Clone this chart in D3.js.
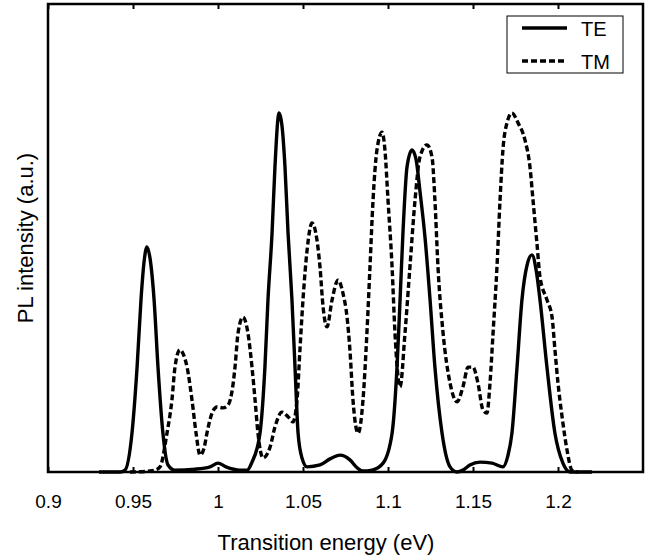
<!DOCTYPE html>
<html>
<head>
<meta charset="utf-8">
<script src="https://cdn.jsdelivr.net/npm/d3@7"></script>
<style>
  body { margin: 0; background: #fff; }
  text { font-family: "Liberation Sans", Arial, sans-serif; fill: #000; }
</style>
</head>
<body>
<div id="chart"></div>
<script>
// TE spectrum: [energy (eV), intensity (a.u.)]
const teEnergy = [0.93, 0.9424, 0.9453, 0.9494, 0.9524, 0.9547, 0.9565, 0.9582, 0.96, 0.9624, 0.9647, 0.9676, 0.9706, 0.9747,
  0.9865, 0.9953, 1.0, 1.0047, 1.0129, 1.0171, 1.02, 1.0247, 1.0276, 1.0294, 1.0318, 1.0335, 1.0359, 1.0376, 1.0394, 1.0412,
  1.0435, 1.0453, 1.0471, 1.0494, 1.0524, 1.06, 1.0659, 1.0718, 1.0776, 1.0818, 1.0853, 1.0906, 1.0971, 1.1024, 1.1053,
  1.1071, 1.1088, 1.1112, 1.1141, 1.1165, 1.1188, 1.1218, 1.1247, 1.1276, 1.1318, 1.1365, 1.1406, 1.1441, 1.1482, 1.1541,
  1.1612, 1.1676, 1.1706, 1.1729, 1.1759, 1.1788, 1.1818, 1.1847, 1.1871, 1.1894, 1.1935, 1.1982, 1.2029, 1.2071, 1.22]
const teValue = [0, 0, 0.004, 0.083, 0.224, 0.368, 0.449, 0.481, 0.457, 0.368, 0.224, 0.083, 0.015, 0.004,
  0.006, 0.011, 0.019, 0.011, 0.004, 0.004, 0.021, 0.083, 0.224, 0.368, 0.511, 0.652, 0.767, 0.741, 0.652, 0.511,
  0.368, 0.224, 0.083, 0.03, 0.011, 0.015, 0.028, 0.036, 0.026, 0.009, 0.002, 0.004, 0.019, 0.083, 0.224,
  0.368, 0.511, 0.652, 0.688, 0.668, 0.6, 0.5, 0.37, 0.224, 0.083, 0.011, 0, 0.004, 0.015, 0.021,
  0.019, 0.011, 0.036, 0.083, 0.224, 0.368, 0.442, 0.464, 0.432, 0.368, 0.224, 0.083, 0.019, 0, 0]

// TM spectrum
const tmEnergy = [0.9482, 0.96, 0.9629, 0.9659, 0.97, 0.9729, 0.9747, 0.9776, 0.98, 0.9818, 0.9847, 0.9871, 0.9894, 0.9918,
  0.9935, 0.9965, 0.9994, 1.0029, 1.0059, 1.0088, 1.01, 1.0118, 1.0147, 1.0176, 1.02, 1.0218, 1.0235, 1.0265, 1.0306,
  1.0335, 1.0376, 1.0412, 1.0441, 1.0465, 1.0482, 1.05, 1.0524, 1.0553, 1.0582, 1.06, 1.0618, 1.0641, 1.0671, 1.0706,
  1.0735, 1.0759, 1.0776, 1.0794, 1.0824, 1.0853, 1.0876, 1.0894, 1.0912, 1.0935, 1.0965, 1.0982, 1.1, 1.1024, 1.1041,
  1.1071, 1.11, 1.1129, 1.1159, 1.1188, 1.1229, 1.1259, 1.1276, 1.1294, 1.1324, 1.1365, 1.1406, 1.1441, 1.1471, 1.15,
  1.1529, 1.1559, 1.1582, 1.16, 1.1618, 1.1641, 1.1659, 1.1676, 1.17, 1.1729, 1.1765, 1.1806, 1.1835, 1.1853, 1.1876,
  1.1894, 1.1935, 1.1965, 1.1982, 1.2, 1.2024, 1.2053, 1.2082, 1.2118]
const tmValue = [0, 0.002, 0.004, 0.011, 0.083, 0.154, 0.224, 0.261, 0.248, 0.224, 0.154, 0.083, 0.036, 0.051,
  0.083, 0.126, 0.139, 0.137, 0.143, 0.186, 0.224, 0.297, 0.331, 0.297, 0.224, 0.154, 0.083, 0.03, 0.053,
  0.096, 0.128, 0.118, 0.107, 0.154, 0.261, 0.368, 0.474, 0.532, 0.496, 0.438, 0.353, 0.31, 0.368, 0.41,
  0.382, 0.331, 0.261, 0.154, 0.083, 0.154, 0.297, 0.438, 0.581, 0.688, 0.726, 0.688, 0.581, 0.438, 0.297,
  0.182, 0.297, 0.438, 0.581, 0.673, 0.699, 0.673, 0.581, 0.438, 0.297, 0.19, 0.15, 0.182, 0.224, 0.224,
  0.19, 0.132, 0.126, 0.19, 0.297, 0.438, 0.581, 0.688, 0.746, 0.767, 0.746, 0.709, 0.652, 0.581, 0.489,
  0.417, 0.368, 0.331, 0.261, 0.19, 0.118, 0.047, 0.004, 0]

const xTicks = [0.9, 0.95, 1, 1.05, 1.1, 1.15, 1.2]

const width = 653, height = 558
const margin = { top: 4, right: 10, bottom: 86, left: 48 }
const innerW = width - margin.left - margin.right
const innerH = height - margin.top - margin.bottom

const svg = d3.select('#chart').append('svg')
  .attr('width', width)
  .attr('height', height)

const g = svg.append('g')
  .attr('transform', `translate(${margin.left},${margin.top})`)

const x = d3.scaleLinear().domain([0.9, 1.25]).range([0, innerW])
const y = d3.scaleLinear().domain([0, 1]).range([innerH, 0])

const te = teEnergy.map((e, i) => [e, teValue[i]])
const tm = tmEnergy.map((e, i) => [e, tmValue[i]])

const line = d3.line()
  .x(d => x(d[0]))
  .y(d => y(d[1]))
  .curve(d3.curveMonotoneX)

g.append('path')
  .datum(tm)
  .attr('d', line)
  .attr('fill', 'none')
  .attr('stroke', '#000')
  .attr('stroke-width', 3.4)
  .attr('stroke-dasharray', '6,3')

g.append('path')
  .datum(te)
  .attr('d', line)
  .attr('fill', 'none')
  .attr('stroke', '#000')
  .attr('stroke-width', 3.4)

// bottom axis, ticks pointing inward
const xAxis = g.append('g')
  .attr('transform', `translate(0,${innerH})`)
  .call(d3.axisBottom(x).tickValues(xTicks).tickSize(-5).tickPadding(23).tickFormat(d3.format('')))
xAxis.select('.domain').remove()
xAxis.selectAll('line').attr('stroke-width', 2)
xAxis.selectAll('text')
  .style('font-family', '"Liberation Sans", Arial, sans-serif')
  .style('font-size', '19px')

const xTop = g.append('g')
  .call(d3.axisTop(x).tickValues(xTicks).tickSize(-5).tickFormat(''))
xTop.select('.domain').remove()
xTop.selectAll('line').attr('stroke-width', 2)

g.append('rect')
  .attr('width', innerW)
  .attr('height', innerH)
  .attr('fill', 'none')
  .attr('stroke', '#000')
  .attr('stroke-width', 2.5)

svg.append('text')
  .attr('x', 326)
  .attr('y', 550)
  .attr('text-anchor', 'middle')
  .style('font-size', '22px')
  .text('Transition energy (eV)')

svg.append('text')
  .attr('transform', 'translate(33,238) rotate(-90)')
  .attr('text-anchor', 'middle')
  .style('font-size', '22px')
  .text('PL intensity (a.u.)')

// legend
const legend = svg.append('g').attr('transform', 'translate(507,16)')
legend.append('rect')
  .attr('width', 116)
  .attr('height', 57)
  .attr('fill', '#fff')
  .attr('stroke', '#000')
  .attr('stroke-width', 1)

const legendItems = [['TE', null], ['TM', '6,3']]
legendItems.forEach(([name, dash], i) => {
  const ly = 12 + i * 33
  legend.append('line')
    .attr('x1', 15).attr('x2', 60)
    .attr('y1', ly).attr('y2', ly)
    .attr('stroke', '#000')
    .attr('stroke-width', 3.4)
    .attr('stroke-dasharray', dash)
  legend.append('text')
    .attr('x', 74)
    .attr('y', ly + 8)
    .style('font-size', '20px')
    .text(name)
})
</script>
</body>
</html>
